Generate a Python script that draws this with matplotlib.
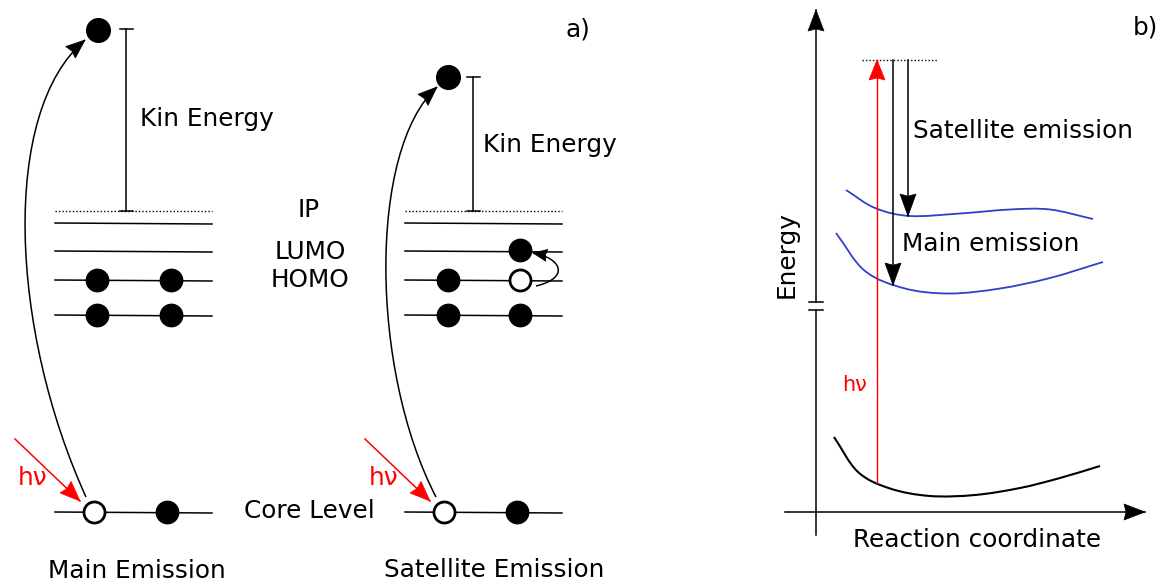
import numpy as np
import matplotlib
matplotlib.use("Agg")
import matplotlib.pyplot as plt
from matplotlib.patches import PathPatch
from matplotlib.path import Path

# Canvas in pixel units (y grows downwards)
W, H = 1159, 582

# Panel a: two level diagrams, second one shifted right
diagram_x = [55, 405]          # left edge of the level lines
level_len = 157
ip_y = 211
level_y = [223, 251, 280, 315]
core_y = 512

# Electrons (x offset from diagram edge, y) per diagram
left_filled = [(42, 280), (116, 280), (42, 315), (116, 315), (112, 512)]
left_hollow = [(39, 512)]
left_free = (98, 30)
right_filled = [(115, 250), (43, 280), (43, 315), (115, 315), (112, 512)]
right_hollow = [(115, 280), (39, 512)]
right_free = (448, 77)

# Kinetic energy bars: x, top, bottom
kin_bars = [(126, 29, 211), (473, 77, 211)]

# Panel b: potential curves (x, y)
sat_x = [846, 875, 910, 960, 1010, 1050, 1093]
sat_y = [190, 208, 216, 213.5, 209.5, 209.5, 219]
main_x = [836, 865, 905, 950, 1000, 1050, 1103]
main_y = [233, 271, 288.5, 293.5, 288.5, 278, 262]
ground_x = [834, 858, 890, 930, 975, 1020, 1060, 1100]
ground_y = [437, 472, 488.5, 496, 495, 488, 478, 466]

excite_x, excite_top, excite_bottom = 877, 60, 483
sat_arrow = (908, 60, 216)
main_arrow = (893, 60, 285)


def smooth_path(xs, ys):
    # Catmull-Rom control points turned into cubic Bezier segments
    pts = np.column_stack([xs, ys]).astype(float)
    verts = [pts[0]]
    codes = [Path.MOVETO]
    for i in range(len(pts) - 1):
        p0 = pts[i - 1] if i > 0 else 2 * pts[i] - pts[i + 1]
        p1, p2 = pts[i], pts[i + 1]
        p3 = pts[i + 2] if i + 2 < len(pts) else 2 * pts[i + 1] - pts[i]
        verts += [p1 + (p2 - p0) / 6, p2 - (p3 - p1) / 6, p2]
        codes += [Path.CURVE4] * 3
    return Path(verts, codes)


def head(ax, tip, back, length, width, color="black"):
    # stealth-style arrow head at tip, pointing away from back
    tip = np.asarray(tip, float)
    d = tip - np.asarray(back, float)
    d /= np.hypot(*d)
    n = np.array([-d[1], d[0]])
    base = tip - d * length
    notch = tip - d * length * 0.9
    pts = [tip, base + n * width / 2, notch, base - n * width / 2]
    ax.fill(*zip(*pts), color=color, lw=0.5, zorder=4)


def straight_arrow(ax, start, end, length, width, color="black", lw=1.1):
    ax.plot([start[0], end[0]], [start[1], end[1]], color=color, lw=lw)
    head(ax, end, start, length, width, color)


def curved_arrow(ax, verts, length, width, color="black", lw=1.1):
    p = Path(verts, [Path.MOVETO, Path.CURVE4, Path.CURVE4, Path.CURVE4])
    ax.add_patch(PathPatch(p, fill=False, edgecolor=color, lw=lw))
    head(ax, verts[-1], verts[-2], length, width, color)


fig = plt.figure(figsize=(W / 100, H / 100), dpi=100)
ax = fig.add_axes([0, 0, 1, 1])
ax.set_xlim(0, W)
ax.set_ylim(H, 0)
ax.axis("off")

fs = 17.8
lw = 1.1

# ---- panel a ----
for x0 in diagram_x:
    ax.plot([x0, x0 + level_len], [ip_y, ip_y], color="black", lw=1, ls=(0, (1, 1.5)))
    for y in level_y:
        ax.plot([x0, x0 + level_len], [y, y + 1], color="black", lw=lw)
    ax.plot([x0, x0 + level_len], [core_y, core_y + 1], color="black", lw=lw)

for x0, filled, hollow, free in [(diagram_x[0], left_filled, left_hollow, left_free),
                                 (diagram_x[1], right_filled, right_hollow, right_free)]:
    fx = [x0 + p[0] for p in filled]
    fy = [p[1] for p in filled]
    ax.scatter(fx, fy, s=260, color="black", zorder=3)
    hx = [x0 + p[0] for p in hollow]
    hy = [p[1] for p in hollow]
    ax.scatter(hx, hy, s=230, facecolor="white", edgecolor="black", linewidth=2.0, zorder=3)
    ax.scatter([free[0]], [free[1]], s=290, color="black", zorder=3)

for x, top, bot in kin_bars:
    ax.plot([x, x], [top, bot], color="black", lw=lw)
    ax.plot([x - 6, x + 7], [top, top], color="black", lw=lw)
    ax.plot([x - 6, x + 7], [bot, bot], color="black", lw=lw)

ax.text(140, 119, "Kin Energy", fontsize=fs, va="center", ha="left")
ax.text(483, 145, "Kin Energy", fontsize=fs, va="center", ha="left")
ax.text(309, 210, "IP", fontsize=fs, va="center", ha="center")
ax.text(310, 252, "LUMO", fontsize=fs, va="center", ha="center")
ax.text(310, 280, "HOMO", fontsize=fs, va="center", ha="center")
ax.text(309, 511, "Core Level", fontsize=fs, va="center", ha="center")
ax.text(137, 571, "Main Emission", fontsize=fs, va="center", ha="center")
ax.text(494, 570, "Satellite Emission", fontsize=fs, va="center", ha="center")
ax.text(578, 29, "a)", fontsize=fs, va="center", ha="center")

# photoelectron trajectories
curved_arrow(ax, [(86, 497), (10, 330), (0, 112), (85, 40)], 19, 15)
curved_arrow(ax, [(436, 497), (370, 370), (368, 150), (437, 87)], 19, 15)

# shake-up excitation
curved_arrow(ax, [(536, 286), (570, 278), (562, 258), (533, 253)], 14, 12)

# incoming photons
for x0, x1 in [(15, 80), (365, 430)]:
    straight_arrow(ax, (x0, 439), (x1, 501), 20, 16, color="red")
ax.text(33, 478, "hν", color="red", fontsize=fs, va="center", ha="center")
ax.text(384, 478, "hν", color="red", fontsize=fs, va="center", ha="center")

# ---- panel b ----
axis_x, axis_y = 816, 512
ax.plot([axis_x, axis_x], [535, 310], color="black", lw=lw)
ax.plot([axis_x - 7, axis_x + 7], [302, 302], color="black", lw=lw)
ax.plot([axis_x - 7, axis_x + 7], [310, 310], color="black", lw=lw)
straight_arrow(ax, (axis_x, 302), (axis_x, 10), 21, 16)
straight_arrow(ax, (785, axis_y), (1145, axis_y), 21, 16)

ax.text(787, 255, "Energy", fontsize=fs, rotation=90, va="center", ha="center")
ax.text(977, 540, "Reaction coordinate", fontsize=fs, va="center", ha="center")
ax.text(1145, 28, "b)", fontsize=fs, va="center", ha="center")

ax.plot([862, 938], [60, 60], color="black", lw=1, ls=(0, (1, 1.5)))

for xs, ys, c, w in [(sat_x, sat_y, "#3040c8", 1.3), (main_x, main_y, "#3040c8", 1.3),
                     (ground_x, ground_y, "black", 1.5)]:
    ax.add_patch(PathPatch(smooth_path(xs, ys), fill=False, edgecolor=c, lw=w))

straight_arrow(ax, (excite_x, excite_bottom), (excite_x, excite_top), 20, 16, color="red", lw=1)
for x, top, bot in [sat_arrow, main_arrow]:
    straight_arrow(ax, (x, top), (x, bot), 22, 16)

ax.text(913, 131, "Satellite emission", fontsize=fs, va="center", ha="left")
ax.text(902, 244, "Main emission", fontsize=fs, va="center", ha="left")
ax.text(855, 385, "hν", color="red", fontsize=15, va="center", ha="center")

fig.savefig("out.png", dpi=100)
